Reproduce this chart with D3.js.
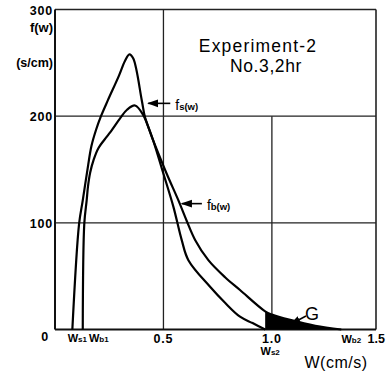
<!DOCTYPE html>
<html>
<head>
<meta charset="utf-8">
<script src="https://cdn.jsdelivr.net/npm/d3@7"></script>
<style>
  body { margin: 0; background: #fff; }
  svg { display: block; font-family: "Liberation Sans", Arial, sans-serif; }
</style>
</head>
<body>
<svg width="386" height="376"></svg>
<script>
// f_s(w) curve: [w (cm/s), f (s/cm)]
var fsCurve = [
  [0.080, 0], [0.111, 99], [0.128, 121], [0.152, 153], [0.168, 172],
  [0.189, 187], [0.212, 200], [0.244, 215], [0.295, 238], [0.323, 252],
  [0.343, 258], [0.361, 254], [0.400, 215], [0.415, 199], [0.453, 177],
  [0.500, 146], [0.546, 115], [0.584, 84], [0.615, 65], [0.715, 40],
  [0.784, 25], [0.853, 12], [0.911, 6], [0.969, 0]
];
// f_b(w) curve
var fbCurve = [
  [0.128, 0], [0.135, 99], [0.146, 121], [0.152, 134], [0.162, 147],
  [0.178, 159], [0.200, 170], [0.240, 181], [0.262, 187], [0.300, 198],
  [0.332, 206], [0.369, 210], [0.407, 201], [0.453, 177], [0.515, 146],
  [0.569, 121], [0.607, 102], [0.646, 84], [0.707, 65], [0.784, 49],
  [0.853, 37], [0.969, 17], [1.000, 14], [1.084, 9], [1.200, 3.5],
  [1.320, 0]
];
var yTicks = [0, 100, 200, 300];
var xTicks = [0.5, 1.0, 1.5];
var ws1 = 0.080, wb1 = 0.128, ws2 = 0.969, wb2 = 1.320;

var svg = d3.select("svg");
var margin = { top: 9.5, left: 55 };
var width = 321, height = 320;

var x = d3.scaleLinear().domain([0, 1.48]).range([margin.left, margin.left + width]);
var y = d3.scaleLinear().domain([0, 300]).range([margin.top + height, margin.top]);

// grid lines
svg.append("g").selectAll("line")
  .data([100, 200])
  .join("line")
  .attr("x1", x(0)).attr("x2", x(1.48))
  .attr("y1", d => y(d)).attr("y2", d => y(d))
  .attr("stroke", "#222").attr("stroke-width", 1.3);

svg.append("line")
  .attr("x1", x(0.5)).attr("x2", x(0.5))
  .attr("y1", y(300)).attr("y2", y(0))
  .attr("stroke", "#222").attr("stroke-width", 1.3);
svg.append("line")
  .attr("x1", x(1.0)).attr("x2", x(1.0))
  .attr("y1", y(200)).attr("y2", y(0))
  .attr("stroke", "#222").attr("stroke-width", 1.3);

// frame
svg.append("line").attr("x1", x(0)).attr("x2", x(1.48)).attr("y1", y(300)).attr("y2", y(300))
  .attr("stroke", "#222").attr("stroke-width", 1.4);
svg.append("line").attr("x1", x(1.48)).attr("x2", x(1.48)).attr("y1", y(300)).attr("y2", y(0))
  .attr("stroke", "#222").attr("stroke-width", 1.6);
svg.append("line").attr("x1", x(0)).attr("x2", x(0)).attr("y1", y(300)).attr("y2", y(0))
  .attr("stroke", "#111").attr("stroke-width", 2);
svg.append("line").attr("x1", x(0)).attr("x2", x(1.48)).attr("y1", y(0)).attr("y2", y(0))
  .attr("stroke", "#111").attr("stroke-width", 2.2);

// shaded region G under f_b beyond Ws2
var area = d3.area()
  .curve(d3.curveCatmullRom.alpha(0.5))
  .x(d => x(d[0]))
  .y0(y(0))
  .y1(d => y(d[1]));
svg.append("path")
  .datum(fbCurve.filter(d => d[0] >= ws2))
  .attr("fill", "#000")
  .attr("d", area);

var line = d3.line()
  .curve(d3.curveCatmullRom.alpha(0.5))
  .x(d => x(d[0]))
  .y(d => y(d[1]));

[fsCurve, fbCurve].forEach(function (c) {
  svg.append("path")
    .datum(c)
    .attr("fill", "none")
    .attr("stroke", "#000")
    .attr("stroke-width", 2.2)
    .attr("stroke-linejoin", "round")
    .attr("d", line);
});

// y tick labels
svg.append("g").selectAll("text")
  .data(yTicks)
  .join("text")
  .attr("x", d => d === 0 ? 49 : 53)
  .attr("y", d => d === 0 ? y(d) + 11 : y(d) + 5)
  .attr("text-anchor", "end")
  .attr("font-size", 12.5).attr("font-weight", "bold")
  .attr("letter-spacing", 0.8)
  .text(d => d);

svg.append("text").attr("x", 53).attr("y", 32).attr("text-anchor", "end")
  .attr("font-size", 13).attr("font-weight", "bold").text("f(w)");
svg.append("text").attr("x", 53).attr("y", 67).attr("text-anchor", "end")
  .attr("font-size", 12.5).attr("font-weight", "bold").text("(s/cm)");

// x tick labels
svg.append("g").selectAll("text")
  .data(xTicks)
  .join("text")
  .attr("x", d => d === 1.5 ? 385 : x(d))
  .attr("y", 343)
  .attr("text-anchor", d => d === 1.5 ? "end" : "middle")
  .attr("font-size", 12.5).attr("font-weight", "bold")
  .attr("letter-spacing", d => d === 1.5 ? 0 : 0.8)
  .text(d => d.toFixed(1));

function wLabel(xPos, yPos, sub) {
  var t = svg.append("text").attr("x", xPos).attr("y", yPos)
    .attr("text-anchor", "middle").attr("font-weight", "bold").attr("font-size", 11);
  t.append("tspan").text("W");
  t.append("tspan").attr("font-size", 8).text(sub);
}
wLabel(x(ws1) + 5, 342, "s1");
wLabel(x(wb1) + 16, 342, "b1");
wLabel(x(ws2) + 5, 355, "s2");
wLabel(x(wb2) + 10, 343, "b2");

svg.append("text").attr("x", 336).attr("y", 368).attr("text-anchor", "middle")
  .attr("font-size", 16).attr("letter-spacing", 0.5).text("W(cm/s)");

// title
svg.append("text").attr("x", 258).attr("y", 52).attr("text-anchor", "middle")
  .attr("font-size", 17.5).attr("letter-spacing", 1.2).text("Experiment-2");
svg.append("text").attr("x", 266).attr("y", 72).attr("text-anchor", "middle")
  .attr("font-size", 17.5).attr("letter-spacing", 0.6).text("No.3,2hr");

// curve labels with arrows
svg.append("defs").append("marker")
  .attr("id", "ah").attr("viewBox", "0 0 10 10")
  .attr("refX", 9).attr("refY", 5)
  .attr("markerWidth", 7).attr("markerHeight", 7)
  .attr("orient", "auto-start-reverse")
  .append("path").attr("d", "M0,1.5L10,5L0,8.5Z").attr("fill", "#000");

function curveLabel(w, f, len, sub) {
  var x0 = x(w), y0 = y(f);
  svg.append("line")
    .attr("x1", x0 + len).attr("y1", y0).attr("x2", x0).attr("y2", y0)
    .attr("stroke", "#000").attr("stroke-width", 1.6)
    .attr("marker-end", "url(#ah)");
  var t = svg.append("text").attr("x", x0 + len + 5).attr("y", y0 + 6.5)
    .attr("font-size", 14);
  t.append("tspan").text("f");
  t.append("tspan").attr("font-size", 9.5).attr("font-weight", "bold").text(sub + "(w)");
}
curveLabel(0.43, 212, 22, "s");
curveLabel(0.585, 118, 20, "b");

// G label
svg.append("line")
  .attr("x1", 306).attr("y1", 316).attr("x2", 291).attr("y2", 324)
  .attr("stroke", "#000").attr("stroke-width", 1.5)
  .attr("marker-end", "url(#ah)");
svg.append("text").attr("x", 312).attr("y", 320).attr("text-anchor", "middle")
  .attr("font-size", 18).text("G");
</script>
</body>
</html>
